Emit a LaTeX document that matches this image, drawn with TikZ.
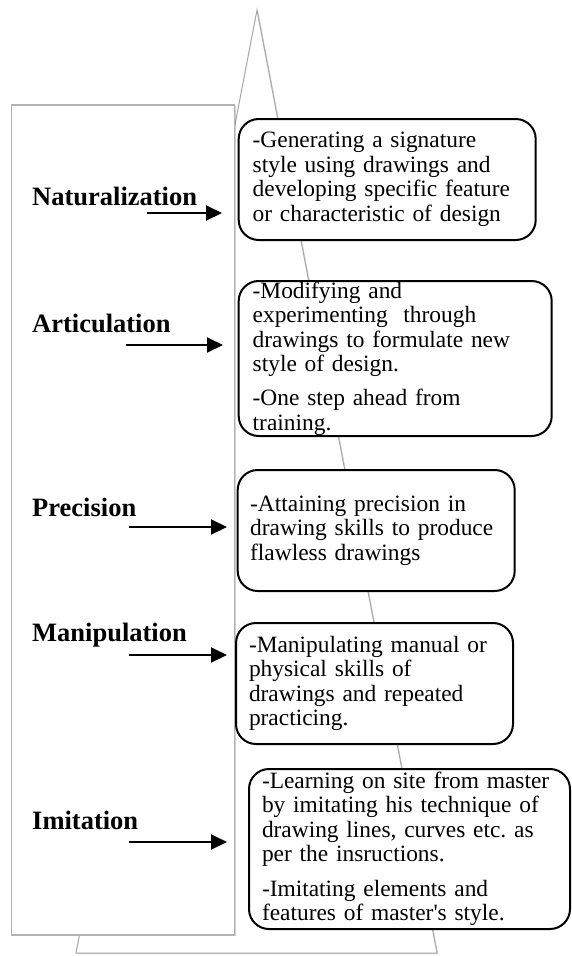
\documentclass[tikz,border=0pt]{standalone}
\usepackage{fontspec}
\setmainfont{Liberation Serif}[WordSpace=0.85]
\usepackage{tikz}
\usetikzlibrary{arrows.meta, shadows}
\frenchspacing

\begin{document}
\begin{tikzpicture}[x=1pt, y=-1pt,
  lbl/.style={anchor=base west, inner sep=0pt, font=\fontsize{26.5}{28}\selectfont\bfseries},
  descbox/.style={draw, line width=2pt, rounded corners=20pt, fill=white, anchor=north west,
    align=left, inner ysep=0pt, font=\fontsize{23.4}{24.5}\selectfont},
  pointer/.style={-{Triangle[length=16pt, width=15pt]}, line width=2pt},
  softshadow/.style={drop shadow={shadow xshift=1.2pt, shadow yshift=-1.2pt, opacity=0.35, fill=gray}}]
  \useasboundingbox (0,0) rectangle (571,956);
  % pyramid in the background
  \draw[gray!70, line width=1pt, fill=white, softshadow] (257,10) coordinate (apex)
    -- (437,953) coordinate (baseR) -- (76,953) coordinate (baseL) -- cycle;
  \node[draw=gray!60, line width=1.5pt, fill=white, softshadow, minimum width=223pt, minimum height=830pt,
    inner sep=0pt, anchor=north west] (frame) at (10.7,104) {};
  % levels
  \node[lbl] (nat) at (32,205) {Naturalization};
  \node[lbl] (art) at (32,332) {Articulation};
  \node[lbl] (pre) at (32,516) {Precision};
  \node[lbl] (man) at (32,641) {Manipulation};
  \node[lbl] (imi) at (32,829) {Imitation};
  % descriptions
  \node[descbox, inner xsep=14pt, text width=269pt, minimum height=121pt] (natbox) at (237.7,118)
    {-Generating a signature\\
     style using drawings and\\
     developing specific feature\\
     or characteristic of design};
  \node[descbox, inner xsep=14pt, text width=285pt, minimum height=155pt] (artbox) at (237.7,280)
    {-Modifying and\\
     experimenting\ \ through\\
     drawings to formulate new\\
     style of design.\\[9.5pt]
     -One step ahead from\\
     training.};
  \node[descbox, inner xsep=12.5pt, text width=252pt, minimum height=121pt] (prebox) at (236.7,469)
    {-Attaining precision in\\
     drawing skills to produce\\
     flawless drawings};
  \node[descbox, inner xsep=13pt, text width=251pt, minimum height=121pt] (manbox) at (235,622)
    {-Manipulating manual or\\
     physical skills of\\
     drawings and repeated\\
     practicing.};
  \node[descbox, inner xsep=13pt, text width=295pt, minimum height=160pt] (imibox) at (248,768)
    {-Learning on site from master\\
     by imitating his technique of\\
     drawing lines, curves etc. as\\
     per the insructions.\\[10pt]
     -Imitating elements and\\
     features of master\textquotesingle s style.};
  % arrows
  \coordinate (nat-s) at (147,213); \coordinate (nat-e) at (222,213);
  \coordinate (art-s) at (126,345); \coordinate (art-e) at (223,345);
  \coordinate (pre-s) at (129,527); \coordinate (pre-e) at (227,527);
  \coordinate (man-s) at (129,655); \coordinate (man-e) at (227,655);
  \coordinate (imi-s) at (129,842); \coordinate (imi-e) at (227,842);
  \draw[pointer] (nat-s) -- (nat-e);
  \draw[pointer] (art-s) -- (art-e);
  \draw[pointer] (pre-s) -- (pre-e);
  \draw[pointer] (man-s) -- (man-e);
  \draw[pointer] (imi-s) -- (imi-e);
\end{tikzpicture}
\end{document}
